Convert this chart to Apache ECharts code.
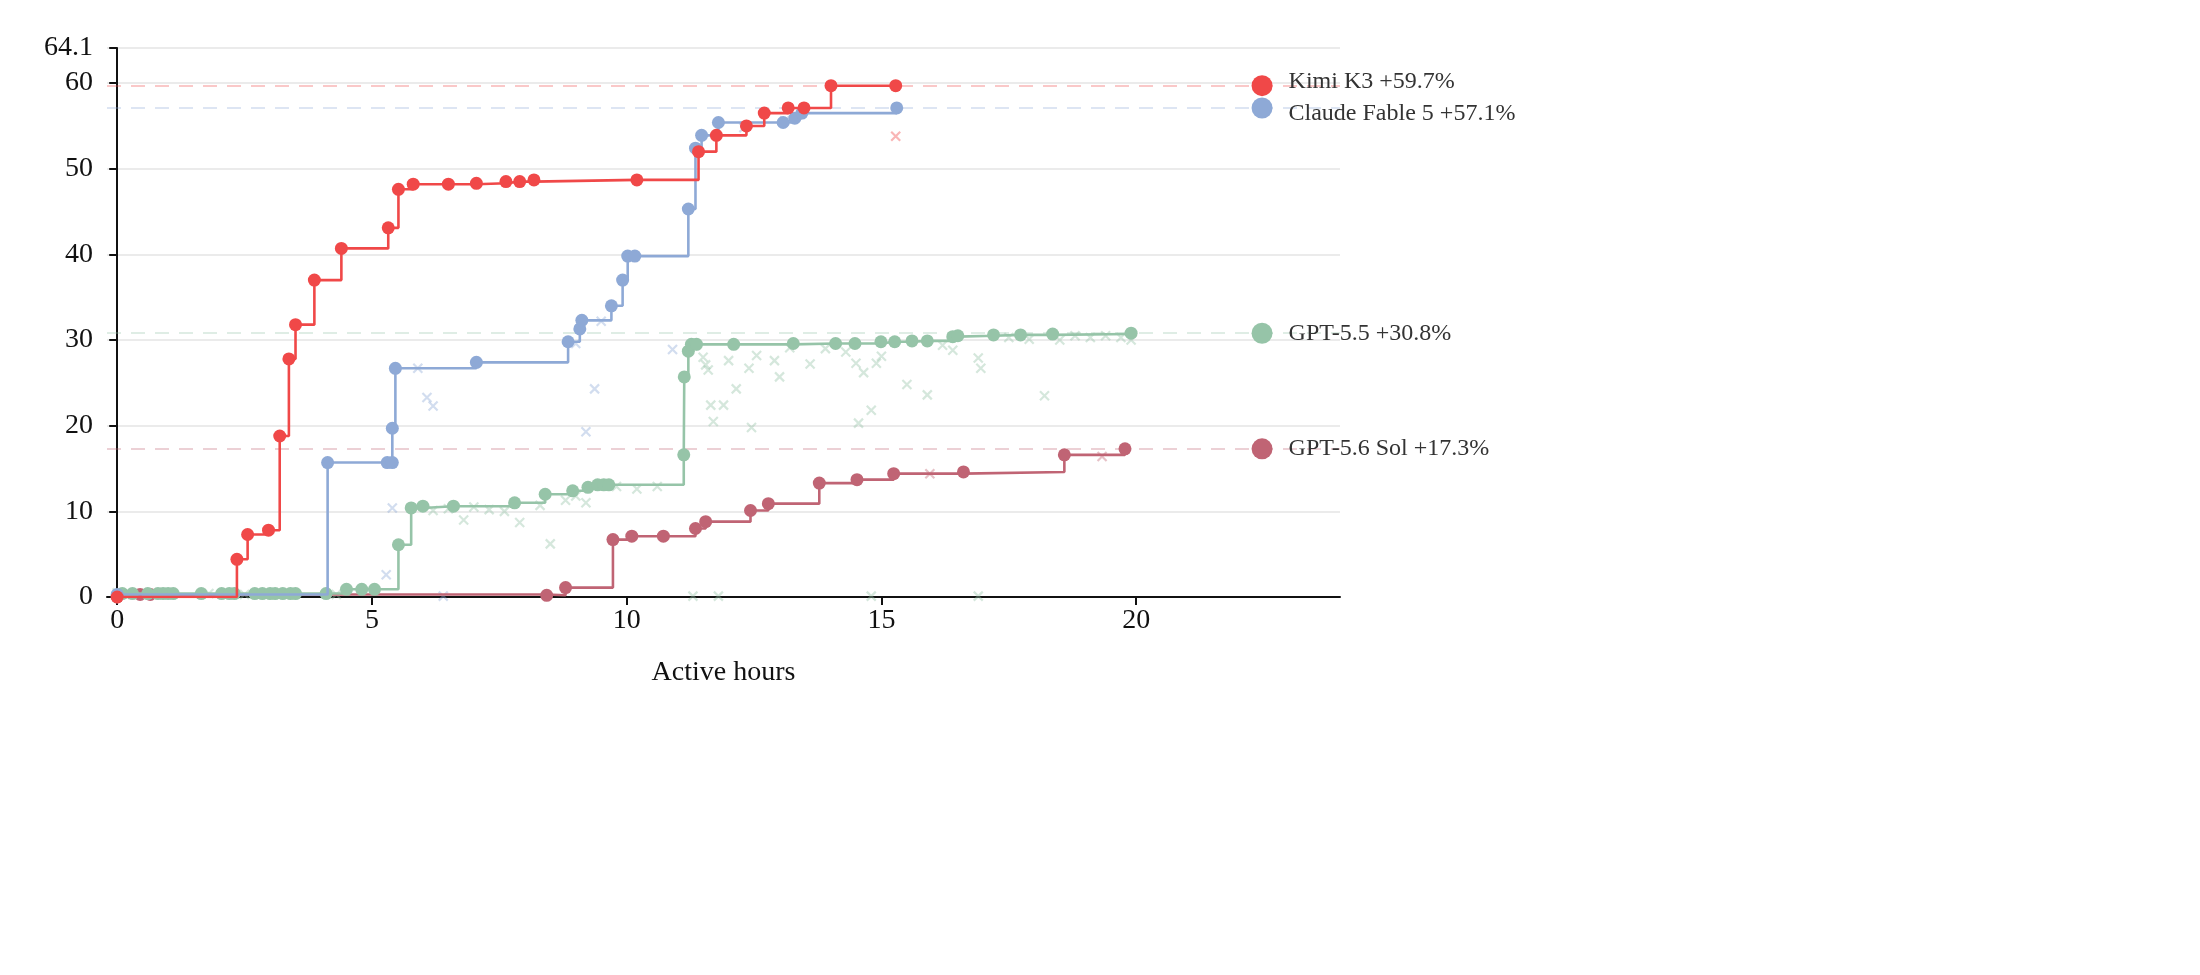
<!DOCTYPE html>
<html><head><meta charset="utf-8">
<script src="https://cdn.jsdelivr.net/npm/echarts@6/dist/echarts.min.js"></script>
<style>html,body{margin:0;background:#fff}#c{width:2200px;height:975px}</style>
</head><body><div id="c"></div>
<script>
const names = ['Kimi K3','Claude Fable 5','GPT-5.5','GPT-5.6 Sol'];
const colors = ['#F04848','#8EA9D6','#96C4A8','#C06474'];
const finals = [59.7,57.1,30.8,17.3];
const kimiPts = [[0,0],[2.35,4.4],[2.56,7.3],[2.97,7.8],[3.19,18.8],[3.37,27.8],[3.5,31.8],[3.87,37.0],[4.4,40.7],[5.32,43.1],[5.52,47.6],[5.81,48.2],[6.5,48.2],[7.05,48.3],[7.63,48.5],[7.9,48.5],[8.18,48.7],[10.2,48.7],[11.41,52.0],[11.76,53.9],[12.35,55.0],[12.7,56.5],[13.17,57.1],[13.48,57.1],[14.01,59.7],[15.28,59.7]];
const kimiX = [[15.28,53.8]];
const claudePts = [[0,0.3],[4.13,15.7],[5.3,15.7],[5.4,15.7],[5.4,19.7],[5.46,26.7],[7.05,27.4],[8.85,29.8],[9.08,31.3],[9.12,32.3],[9.7,34.0],[9.92,37.0],[10.02,39.8],[10.16,39.8],[11.21,45.3],[11.35,52.4],[11.47,53.9],[11.8,55.4],[13.07,55.4],[13.3,55.9],[13.44,56.5],[15.3,57.1]];
const claudeX = [[5.28,2.6],[5.4,10.4],[5.9,26.7],[6.08,23.3],[6.2,22.3],[6.4,0.1],[9.0,29.6],[9.2,19.3],[9.37,24.3],[9.5,32.2],[10.9,28.9],[12.3,54.8],[13.1,55.6]];
const gptPts = [[0.1,0.4],[0.3,0.4],[0.6,0.4],[0.8,0.4],[0.9,0.4],[1.0,0.4],[1.1,0.4],[1.65,0.4],[2.05,0.4],[2.2,0.4],[2.3,0.4],[2.7,0.4],[2.85,0.4],[3.0,0.4],[3.1,0.4],[3.25,0.4],[3.4,0.4],[3.5,0.4],[4.1,0.4],[4.5,0.9],[4.8,0.9],[5.05,0.9],[5.52,6.1],[5.77,10.4],[6.0,10.6],[6.6,10.6],[7.8,11.0],[8.4,12.0],[8.94,12.4],[9.24,12.8],[9.43,13.1],[9.55,13.1],[9.65,13.1],[11.12,16.6],[11.13,25.7],[11.21,28.7],[11.27,29.5],[11.37,29.5],[12.1,29.5],[13.27,29.6],[14.1,29.6],[14.48,29.6],[14.99,29.8],[15.26,29.8],[15.6,29.9],[15.9,29.9],[16.4,30.4],[16.5,30.5],[17.2,30.6],[17.73,30.6],[18.36,30.7],[19.9,30.8]];
const gptX = [[0.0,0.5],[0.3,0.3],[0.5,0.4],[1.0,0.5],[1.8,0.4],[2.5,0.3],[3.3,0.5],[4.3,0.3],[6.2,10.1],[6.5,10.3],[6.8,9.0],[7.0,10.5],[7.3,10.2],[7.6,10.0],[7.9,8.7],[8.3,10.7],[8.5,6.2],[8.8,11.3],[9.0,11.8],[9.2,11.0],[9.8,12.9],[10.2,12.6],[10.6,12.9],[11.3,29.3],[11.5,28.0],[11.55,27.1],[11.6,26.5],[11.65,22.4],[11.7,20.5],[11.9,22.4],[12.0,27.6],[12.15,24.3],[12.4,26.7],[12.45,19.8],[12.55,28.2],[12.9,27.6],[13.0,25.7],[13.2,29.1],[13.6,27.2],[13.9,29.0],[14.3,28.6],[14.5,27.3],[14.55,20.3],[14.65,26.2],[14.8,21.8],[14.9,27.3],[15.0,28.1],[15.5,24.8],[15.9,23.6],[16.2,29.4],[16.4,28.8],[16.9,27.9],[16.95,26.7],[17.5,30.3],[17.9,30.1],[18.2,23.5],[18.5,30.0],[18.8,30.5],[19.1,30.3],[19.4,30.5],[19.7,30.3],[19.9,30.0],[11.3,0.1],[11.8,0.1],[14.8,0.1],[16.9,0.1]];
const solPts = [[0,0],[0.45,0.3],[0.65,0.3],[8.43,0.2],[8.8,1.1],[9.73,6.7],[10.1,7.1],[10.72,7.1],[11.35,8.0],[11.55,8.8],[12.43,10.1],[12.78,10.9],[13.78,13.3],[14.52,13.7],[15.24,14.4],[16.61,14.6],[18.59,16.6],[19.78,17.3]];
const solX = [[15.95,14.4],[19.33,16.4]];
const xTicks = [0,5,10,15,20];
const LEGEND_X = 22.47;

const ptsList = [kimiPts,claudePts,gptPts,solPts];
const xList = [kimiX,claudeX,gptX,solX];
const series = [];
ptsList.forEach((d,i)=>{
  series.push({type:'line',step:'end',data:d,color:colors[i],symbol:'circle',symbolSize:13,
    lineStyle:{width:2.6,color:colors[i]},itemStyle:{color:colors[i],opacity:1},z:5-i+3,
    markLine:{silent:true,symbol:'none',label:{show:false},lineStyle:{type:[14,10],width:2,color:colors[i],opacity:0.3},data:[{yAxis:finals[i]}]}});
  series.push({type:'scatter',data:xList[i],symbol:'path://M0,0L10,10M10,0L0,10',symbolSize:9,
    itemStyle:{color:'none',borderColor:colors[i],borderWidth:2.2,opacity:0.4},z:2});
});
const offs=[[0,-4],[0,6],[0,0],[0,0]];
series.push({type:'scatter',clip:false,symbolSize:21,
  data:finals.map((v,i)=>({value:[LEGEND_X,v],itemStyle:{color:colors[i],opacity:1},
    label:{show:true,position:'right',distance:16,offset:offs[i],formatter:names[i]+' +'+v.toFixed(1)+'%',color:'#333',fontSize:24,fontFamily:'Liberation Serif'}})),z:10});

const chart = echarts.init(document.getElementById('c'));
chart.setOption({
  animation:false,
  grid:{left:107,right:860,top:48,bottom:378},
  xAxis:{type:'value',min:-0.2,max:24,name:'Active hours',nameLocation:'middle',nameGap:62,
    nameTextStyle:{fontSize:28,fontFamily:'Liberation Serif',color:'#111'},
    axisLine:{lineStyle:{color:'#111',width:2}},splitLine:{show:false},
    axisTick:{show:true,length:8,lineStyle:{color:'#111',width:2},customValues:xTicks},
    axisLabel:{customValues:xTicks,fontSize:28,fontFamily:'Liberation Serif',color:'#111',margin:10}},
  yAxis:{type:'value',min:0,max:64.1,interval:10,
    axisLine:{show:true,lineStyle:{color:'#111',width:2}},
    axisTick:{show:true,length:8,lineStyle:{color:'#111',width:2}},
    axisLabel:{fontSize:28,fontFamily:'Liberation Serif',color:'#111',margin:14,showMaxLabel:true},
    splitLine:{show:true,lineStyle:{color:'#ebebeb',width:2}}},
  series
});
</script></body></html>
